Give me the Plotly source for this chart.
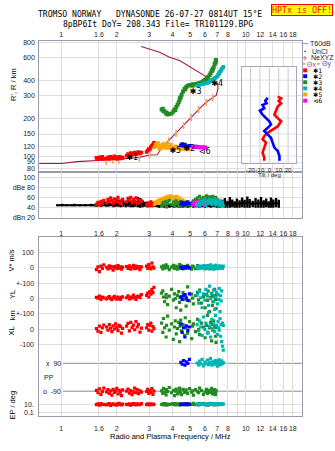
import math
import plotly.graph_objects as go

W, H = 335, 451

# ---------------- tick values / labels ----------------
freq_ticks = [1, 1.6, 2, 3, 4, 5, 6, 7, 8, 10, 12, 14, 16, 18]
freq_ticks_mid = [1, 1.6, 2, 3, 4, 5, 6, 7, 8, 9, 10, 12, 14, 16, 18]
range_ticks = [80, 90, 100, 120, 150, 200, 300, 400, 600, 800]
db_ticks = [20, 40, 60, 80, 100]
db_ticktext = ['dBn 20', '40', '60', 'dBe 80', '100']
tilt_ticks = [-20, -10, 0, 10, 20]

# ---------------- profile (real height) and NeXYZ ----------------
prof_f = [0.75, 1.00, 1.22, 1.51, 1.75, 1.99, 2.34, 2.65, 3.01, 3.32,
          3.41, 3.48, 3.82, 4.19, 4.60, 5.06, 5.55, 6.10, 6.62, 6.93,
          7.07, 7.03, 6.78, 6.37, 5.40, 4.38, 3.86, 3.41, 2.71]
prof_R = [87.5, 87.5, 90.7, 93.0, 93.5, 94.7, 96.5, 98.0, 102.4, 102.9,
          110, 116.7, 132.9, 152, 174, 203, 234, 268, 291, 305,
          344, 374, 388, 411, 479, 573, 608, 665, 741]
pink_f = [1.75, 1.90, 2.05, 2.65, 3.01, 3.48, 3.82, 4.19, 4.60, 5.06, 5.55, 6.10, 6.62]
pink_R = [90.7, 93.0, 93.0, 96.5, 102.4, 116.7, 132.9, 152, 174, 203, 234, 268, 291]

# ---------------- echo class 1 (red) ----------------
red_f = [1.55, 1.58, 1.61, 1.64, 1.67, 1.70,
         1.76, 1.79, 1.82, 1.85, 1.88, 1.91, 1.94, 1.97, 2.00, 2.03, 2.06, 2.09, 2.12, 2.15,
         2.26, 2.30, 2.34, 2.38, 2.42, 2.46, 2.50, 2.54, 2.58, 2.62, 2.67, 2.72,
         2.90, 2.94, 2.98, 3.02, 3.06, 3.10, 3.14, 3.18]
red_R = [97, 95, 98, 96, 99, 95,
         96, 98, 95, 99, 97, 96, 100, 97, 95, 98, 99, 96, 98, 97,
         101, 104, 102, 106, 103, 105, 107, 104, 106, 108, 105, 107,
         108, 111, 114, 113, 118, 121, 124, 128]
red_dB = [47, 51, 46, 53, 49, 55,
          50, 57, 53, 60, 55, 49, 58, 52, 56, 61, 50, 54, 48, 57,
          52, 59, 55, 61, 50, 57, 53, 60, 49, 56, 51, 54,
          46, 50, 44, 48, 52, 45, 49, 47]
red_V = [-12, 5, -25, 10, -5, 18,
         3, -8, 12, -3, 7, -15, 2, 9, -6, 14, -2, 6, -10, 4,
         8, -4, 12, -9, 3, 15, -6, 10, -2, 7, -12, 5,
         11, -5, 20, 2, -8, 30, 6, -3]
red_YL = [8, 2, 15, -5, 10, 4,
          -3, 6, 12, 0, -8, 5, 14, 3, -4, 9, 1, -6, 7, 11,
          5, 18, -2, 10, 3, 22, 8, -5, 12, 15, 6, 25,
          20, 35, 10, 45, 28, 60, 38, 72]
red_XL = [5, -12, 20, -20, 10, 28,
          15, -5, 30, 8, -15, 22, 2, 35, 12, -8, 25, 18, -25, 6,
          20, 38, -10, 45, 12, 28, -3, 50, 15, 32, -18, 8,
          10, 30, -5, 25, 40, -12, 18, 5]
red_PP = [-85, -100, -75, -110, -92, -70,
          -95, -80, -105, -88, -115, -78, -98, -90, -72, -108, -84, -96, -118, -82,
          -90, -76, -102, -86, -112, -94, -70, -100, -80, -106, -88, -96,
          -92, -78, -104, -86, -98, -74, -110, -90]
red_EP = [8, 12, 6, 15, 9, 10,
          7, 11, 14, 5, 9, 13, 8, 10, 6, 12, 16, 9, 7, 11,
          10, 8, 13, 6, 9, 15, 11, 7, 12, 10, 8, 14,
          9, 12, 7, 10, 13, 8, 11, 9]

# ---------------- echo class 2 (blue) ----------------
blue_f = [4.45, 4.52, 4.60, 4.68, 4.76, 4.85, 4.95]
blue_R = [122, 125, 121, 124, 120, 119, 121]
blue_dB = [48, 51, 46, 50, 47, 52, 49]
blue_V = [2, -4, 6, -1, 3, 8, -2]
blue_YL = [10, -5, 18, 25, 5, -12, 30]
blue_XL = [35, -20, 10, -50, 22, -8, 15]
blue_PP = [96, 84, 108, 78, 100, 90, 115]
blue_EP = [9, 11, 8, 12, 10, 13, 9]

# ---------------- echo class 3 (green) ----------------
green_f = [3.50, 3.55, 3.58, 3.63, 3.70, 3.72, 3.77, 3.85, 3.96, 4.05,
           4.11, 4.15, 4.20, 4.27, 4.33, 4.38, 4.40, 4.44, 4.49, 4.57,
           4.66, 4.70, 4.75, 4.84, 4.96, 5.09, 5.15, 5.20, 5.34, 5.48,
           5.55, 5.62, 5.75, 5.90, 6.02, 6.13, 6.20, 6.25, 6.37, 6.45,
           6.53, 6.60, 6.62, 6.70, 6.78, 6.85, 6.88, 6.90]
green_R = [234, 238, 228, 226, 218, 222, 214, 216, 218, 226,
           234, 232, 245, 256, 268, 280, 288, 293, 307, 325,
           342, 338, 352, 361, 365, 368, 362, 372, 374, 377,
           372, 380, 386, 395, 402, 409, 418, 425, 440, 455,
           472, 480, 490, 507, 535, 550, 578, 566]
green_dB = [44, 48, 51, 46, 53, 42, 49, 55, 47, 52,
            45, 50, 54, 48, 43, 51, 46, 53, 49, 45,
            47, 44, 50, 46, 48, 45, 51, 54, 57, 60,
            55, 63, 58, 61, 56, 64, 59, 53, 62, 57,
            60, 55, 63, 58, 54, 61, 56, 59]
green_V = [5, -8, 12, -3, 18, 0, 8, -12, 4, 15,
           -5, 10, 2, -10, 7, 20, -2, 6, 13, -7,
           3, 9, -4, 16, 1, -9, 11, 5, -6, 14,
           2, -3, 8, 0, 10, -5, 4, 12, -8, 6,
           -2, 9, 3, -6, 7, 1, -4, 5]
green_YL = [35, 50, 10, -20, 25, 5, -40, 15, 60, -10,
            30, 0, -60, 20, 45, -25, 8, -75, 12, 38,
            -5, 22, -50, 75, -15, 28, 3, -35, 18, 40,
            -8, 55, -30, 12, -60, 25, -12, 48, -85, 6,
            30, -45, 15, -20, 60, -5, 20, -65]
green_XL = [40, -20, 70, 10, -50, 25, 85, -5, 35, -65,
            15, 55, -30, 5, 45, -80, 20, 60, -10, 30,
            -40, 75, 10, -25, 50, -60, 20, 35, -15, 65,
            0, -35, 40, 15, -55, 25, 90, -20, 10, 45,
            -75, 30, -5, 55, 20, -45, 12, -85]
green_PP = [-88, -104, -72, -96, -114, -80, -92, -66, -100, -84,
            -118, -90, -76, -108, -94, -70, -86, -102, -112, -78,
            -98, -90, -82, -106, -74, -96, -88, -116, -80, -92,
            -100, -70, -86, -110, -94, -78, -104, -90, -84, -98,
            -72, -108, -88, -96, -80, -112, -92, -86]
green_EP = [9, 12, 7, 14, 10, 6, 11, 8, 13, 9,
            15, 7, 10, 12, 8, 11, 6, 14, 9, 10,
            12, 8, 11, 7, 13, 9, 10, 16, 8, 12,
            7, 11, 9, 14, 10, 8, 12, 6, 10, 13,
            9, 11, 8, 12, 10, 7, 9, 11]

# ---------------- echo class 4 (cyan) ----------------
cyan_f = [5.45, 5.55, 5.62, 5.70, 5.80, 5.90, 6.00, 6.08, 6.20, 6.28,
          6.37, 6.45, 6.55, 6.62, 6.70, 6.78, 6.85, 6.95, 7.02, 7.08,
          7.13, 7.18, 7.25, 7.30, 7.35, 7.40, 7.48, 7.55]
cyan_R = [362, 366, 368, 370, 372, 374, 377, 378, 380, 384,
          390, 395, 400, 405, 409, 414, 418, 424, 432, 440,
          447, 455, 465, 472, 480, 490, 500, 510]
cyan_dB = [46, 50, 44, 53, 48, 56, 51, 45, 54, 49,
           57, 52, 47, 55, 50, 58, 46, 53, 49, 56,
           51, 45, 54, 48, 52, 47, 50, 44]
cyan_V = [4, -6, 10, -2, 8, 14, -8, 3, 12, -4,
          6, 18, 0, 9, -10, 5, 15, -3, 7, 11,
          -6, 2, 13, -2, 8, 4, -5, 10]
cyan_YL = [20, -30, 45, 5, -60, 30, -10, 60, 15, -45,
           80, 0, 35, -20, 55, -70, 10, 40, -35, 25,
           -5, 65, -85, 18, -15, 50, -160, -175]
cyan_XL = [30, -10, 55, 15, -40, 80, 0, 40, -25, 110,
           20, -50, 65, 5, 35, -15, 90, 25, -35, 50,
           10, -5, 70, -45, 30, -80, -110, -135]
cyan_PP = [92, 80, 104, 86, 116, 74, 98, 88, 110, 82,
           96, 120, 78, 100, 90, 84, 108, 94, 72, 102,
           86, 112, 90, 80, 98, 106, 88, 95]
cyan_EP = [10, 13, 8, 15, 11, 9, 12, 7, 14, 10,
           16, 9, 11, 13, 8, 12, 10, 15, 9, 11,
           13, 8, 12, 10, 14, 9, 11, 12]

# ---------------- echo class 5 (orange) & 6 (magenta) ----------------
orange_f = [3.20, 3.25, 3.30, 3.35, 3.40, 3.45, 3.50, 3.55, 3.60, 3.66,
            3.72, 3.78, 3.85, 3.92, 4.00, 4.08, 4.15, 4.22, 4.30, 4.38,
            4.46, 4.55, 4.64, 4.72, 4.80, 4.88]
orange_R = [118, 124, 120, 127, 115, 122, 119, 125, 117, 121,
            126, 116, 119, 123, 117, 115, 120, 116, 118, 115,
            117, 114, 116, 114, 115, 113]
orange_dB = [47, 52, 49, 55, 51, 57, 53, 59, 56, 61,
             58, 63, 60, 64, 59, 62, 57, 63, 55, 60,
             52, 56, 49, 53, 47, 50]
mag_f = [5.15, 5.25, 5.35, 5.45, 5.55, 5.65, 5.75, 5.85, 5.95, 6.05]
mag_R = [119, 118, 120, 118, 119, 117, 118, 117, 118, 117]
mag_dB = [46, 50, 44, 52, 48, 53, 47, 51, 45, 49]

# ---------------- echo labels ----------------
lab_text = ['✱1', '✱5', '✱2', '⊲6', '✱3', '✱4']
lab_f = [2.42, 4.15, 4.94, 5.99, 5.35, 7.0]
lab_R = [97.5, 110, 114.7, 108.6, 324, 376]

# ---------------- noise (unclassified amplitude) ----------------
noise_f = [0.95, 0.98, 1.01, 1.04, 1.07, 1.10, 1.14, 1.18, 1.22, 1.26,
           1.30, 1.35, 1.40, 1.45, 1.50, 1.55, 1.60, 1.65, 1.70, 1.75,
           1.80, 1.86, 1.92, 1.98, 2.04, 2.10, 2.17, 2.24, 2.31, 2.38,
           2.45, 2.52, 2.60, 2.68, 2.76, 2.84, 2.93, 3.02, 3.11, 3.20,
           3.30, 3.40, 3.50, 3.62, 3.74, 3.86, 3.98, 4.10, 4.25, 4.40,
           4.55, 4.70, 4.85, 5.00, 5.20, 5.40, 5.60, 5.80, 6.00, 6.20,
           6.45, 6.70, 6.95, 7.20, 7.45, 7.70, 7.95, 8.20, 8.45, 8.70,
           8.95, 9.25, 9.55, 9.85, 10.2, 10.5, 10.9, 11.3, 11.7, 12.1,
           12.5, 12.9, 13.3, 13.7, 14.1, 14.6, 15.1]
noise_hi = [47, 46, 48, 46, 47, 46, 47, 48, 46, 47,
            46, 47, 46, 48, 47, 49, 50, 48, 52, 50,
            54, 49, 53, 51, 56, 50, 55, 52, 58, 54,
            57, 53, 62, 60, 55, 52, 50, 48, 51, 49,
            47, 46, 48, 47, 46, 48, 47, 46, 47, 48,
            47, 46, 48, 47, 46, 47, 48, 46, 47, 48,
            47, 49, 48, 52, 56, 60, 54, 62, 57, 53,
            59, 55, 61, 56, 63, 58, 54, 60, 57, 62,
            55, 59, 53, 61, 57, 60, 56]
noise_lo = [43, 44, 43, 44, 43, 44, 43, 43, 44, 43,
            44, 43, 44, 43, 43, 42, 43, 42, 43, 42,
            42, 43, 41, 42, 42, 41, 42, 41, 42, 41,
            41, 42, 41, 40, 41, 42, 41, 42, 41, 42,
            41, 40, 41, 40, 41, 40, 41, 40, 41, 40,
            40, 41, 40, 41, 40, 41, 40, 41, 40, 41,
            40, 41, 40, 40, 41, 40, 40, 40, 41, 40,
            40, 40, 41, 40, 40, 40, 41, 40, 40, 40,
            40, 41, 40, 40, 40, 41, 40]

# ---------------- tilt inset ----------------
thx_R = [296, 287, 274, 262, 247, 226, 213, 200, 189, 172, 162, 153, 144, 136, 128, 117, 107, 97.5, 92]
thx = [8.9, 12.6, 10, 12.6, 8.9, 7.2, 5.4, 8.9, 12.6, 8.9, 3.5, -1.8, -5.4, -7.2, -3.5, -5.4, -7.2, -5.4, -5.4]
thy_R = [291, 274, 262, 255, 240, 229, 213, 200, 189, 178, 167, 158, 149, 140, 128, 117, 110, 100.5, 92]
thy = [-1.8, -4.3, -2.9, -7.2, -5.4, -10, -7.2, -3.5, 0, 1.8, -1.8, -5.4, -1.8, 1.8, 3.5, 5.4, 8.9, 10.8, 10.8]

# ---------------- styling / geometry ----------------
RED, BLUE, GREEN, CYAN, ORANGE, MAG = '#ff0000', '#0000ff', '#228b22', '#00b4b4', '#ffa500', '#ff00ff'
GRID = '#dedede'
FRAME = '#9a9aaa'
SANS = 'Liberation Sans, Arial, sans-serif'
MONO = 'DejaVu Sans Mono, monospace'
TICKFONT = dict(family=SANS, size=7, color='#222')

def fx(px):
    return px / W

def fy(py):
    return 1 - py / H

X_DOM = [fx(39.3), fx(301.7)]
F_RANGE = [math.log10(0.76), math.log10(20.1)]

# panel-3 strip mapping (stacked strips on one axis)
V0, Y0, X0, K = 150.7, 119.5, 88.3, 0.156
P0, KP = 39.7, 0.157
E0, KE = 4.0, 4.15

def vpos(vals):
    return [V0 + K * v for v in vals]

def ylpos(vals):
    return [Y0 + K * v for v in vals]

def xlpos(vals):
    return [X0 + K * v for v in vals]

def pppos(vals):
    return [P0 + KP * v for v in vals]

def eppos(vals):
    return [E0 + KE * (math.log10(v) + 1) for v in vals]

fig = go.Figure()

def pts(x, y, color, xa, ya, size=3.2):
    fig.add_trace(go.Scatter(x=x, y=y, mode='markers', xaxis=xa, yaxis=ya,
                             marker=dict(symbol='square', size=size, color=color, line=dict(width=0)),
                             hoverinfo='skip'))

# ---- inset gridlines (traces, above the white backing) ----
for t in tilt_ticks:
    fig.add_trace(go.Scatter(x=[t, t], y=[80, 600], mode='lines', xaxis='x4', yaxis='y4',
                             line=dict(color='#c8c8d8', width=1), hoverinfo='skip'))
for r in [100, 120, 150, 200, 300, 400]:
    fig.add_trace(go.Scatter(x=[-40, 40], y=[r, r], mode='lines', xaxis='x4', yaxis='y4',
                             line=dict(color=GRID, width=1), hoverinfo='skip'))
fig.add_trace(go.Scatter(x=thx, y=thx_R, mode='lines', xaxis='x4', yaxis='y4',
                         line=dict(color=RED, width=2.6), hoverinfo='skip'))
fig.add_trace(go.Scatter(x=thy, y=thy_R, mode='lines', xaxis='x4', yaxis='y4',
                         line=dict(color=BLUE, width=2.6), hoverinfo='skip'))

# ---- top panel ----
fig.add_trace(go.Scatter(x=prof_f, y=prof_R, mode='lines', xaxis='x', yaxis='y',
                         line=dict(color='#a3194a', width=1.1), hoverinfo='skip'))
fig.add_trace(go.Scatter(x=pink_f, y=pink_R, mode='markers', xaxis='x', yaxis='y',
                         marker=dict(symbol='line-ns-open', size=5, line=dict(color='#e45c86', width=1.6)),
                         hoverinfo='skip'))
pts(red_f, red_R, RED, 'x', 'y', 3.6)
pts(orange_f, orange_R, ORANGE, 'x', 'y', 3.6)
pts(green_f, green_R, GREEN, 'x', 'y', 4)
pts(cyan_f, cyan_R, CYAN, 'x', 'y', 3.6)
pts(blue_f, blue_R, BLUE, 'x', 'y', 3.6)
pts(mag_f, mag_R, MAG, 'x', 'y', 3.6)
fig.add_trace(go.Scatter(x=lab_f, y=lab_R, mode='text', text=lab_text, xaxis='x', yaxis='y',
                         textfont=dict(family='DejaVu Sans', size=8, color='black'),
                         textposition='middle center', hoverinfo='skip'))

# ---- amplitude panel ----
nx, ny = [], []
for f, lo, hi in zip(noise_f, noise_lo, noise_hi):
    nx += [f, f, None]
    ny += [lo, hi, None]
fig.add_trace(go.Scatter(x=nx, y=ny, mode='lines', xaxis='x2', yaxis='y2',
                         line=dict(color='black', width=2.4), hoverinfo='skip'))
fig.add_trace(go.Scatter(x=noise_f, y=[(a + b) / 2 for a, b in zip(noise_lo, noise_hi)], mode='lines',
                         xaxis='x2', yaxis='y2', line=dict(color='black', width=2), hoverinfo='skip'))
pts(red_f, red_dB, RED, 'x2', 'y2')
pts(orange_f, orange_dB, ORANGE, 'x2', 'y2')
pts(green_f, green_dB, GREEN, 'x2', 'y2')
pts(mag_f, mag_dB, MAG, 'x2', 'y2')
pts(blue_f, blue_dB, BLUE, 'x2', 'y2')
pts(cyan_f, cyan_dB, CYAN, 'x2', 'y2')

# ---- V*, YL, XL, PP, EP panel ----
for f, V, YL, XL, PP, EP, col in [
        (red_f, red_V, red_YL, red_XL, red_PP, red_EP, RED),
        (green_f, green_V, green_YL, green_XL, green_PP, green_EP, GREEN),
        (cyan_f, cyan_V, cyan_YL, cyan_XL, cyan_PP, cyan_EP, CYAN),
        (blue_f, blue_V, blue_YL, blue_XL, blue_PP, blue_EP, BLUE)]:
    pts(f, vpos(V), col, 'x3', 'y3')
    pts(f, ylpos(YL), col, 'x3', 'y3')
    pts(f, xlpos(XL), col, 'x3', 'y3')
    pts(f, pppos(PP), col, 'x3', 'y3')
    pts(f, eppos(EP), col, 'x3', 'y3')

# ---------------- axes ----------------
def xax(dom, anchor, side, tickvals, showlabels=True, standoff=0):
    return dict(type='log', range=F_RANGE, domain=dom, anchor=anchor, side=side,
                tickmode='array', tickvals=tickvals, ticktext=[str(v) for v in tickvals],
                showticklabels=showlabels, ticklabelstandoff=standoff, tickangle=0,
                showgrid=True, gridcolor=GRID, gridwidth=1,
                minor=dict(tickvals=[9], showgrid=True, gridcolor=GRID),
                showline=True, mirror=True, linecolor=FRAME, linewidth=1,
                ticks='', tickfont=TICKFONT, zeroline=False, fixedrange=True)

p3_grid = [V0 + 100 * K, V0, V0 - 100 * K, Y0, Y0 - 100 * K, X0, X0 - 100 * K,
           E0 + 2 * KE, E0]

fig.update_layout(
    width=W, height=H, margin=dict(l=0, r=0, t=0, b=0),
    paper_bgcolor='white', plot_bgcolor='white', showlegend=False,
    xaxis=xax(X_DOM, 'y', 'top', freq_ticks, True, 0),
    xaxis2=xax(X_DOM, 'y2', 'bottom', freq_ticks_mid, True, 9),
    xaxis3=xax(X_DOM, 'y3', 'bottom', freq_ticks, True, 5),
    yaxis=dict(type='log', range=[math.log10(75.4), math.log10(815)], domain=[fy(171), fy(38.7)],
               anchor='x', tickmode='array', tickvals=range_ticks, ticktext=[str(v) for v in range_ticks],
               showgrid=True, gridcolor=GRID, showline=True, mirror=True, linecolor=FRAME,
               ticks='', tickfont=TICKFONT, zeroline=False, ticklabelstandoff=2),
    yaxis2=dict(range=[19.4, 112.5], domain=[fy(218), fy(171)], anchor='x2',
                tickmode='array', tickvals=db_ticks, ticktext=db_ticktext,
                showgrid=True, gridcolor=GRID, showline=True, mirror=True, linecolor=FRAME,
                ticks='', tickfont=TICKFONT, zeroline=False, ticklabelstandoff=2),
    yaxis3=dict(range=[0, 182.3], domain=[fy(419), fy(236.7)], anchor='x3',
                tickmode='array', tickvals=p3_grid, showticklabels=False,
                showgrid=True, gridcolor=GRID, showline=True, mirror=True, linecolor=FRAME,
                ticks='', zeroline=False),
    xaxis4=dict(range=[-29.4, 28.4], domain=[fx(241.7), fx(296)], anchor='y4',
                tickmode='array', tickvals=tilt_ticks, ticktext=[str(v) for v in tilt_ticks],
                tickangle=0, ticklabelstandoff=1,
                showgrid=False, showline=True, mirror=True, linecolor='#a8a8c0',
                ticks='', tickfont=dict(family=SANS, size=6, color='#222'), zeroline=False),
    yaxis4=dict(type='log', range=[math.log10(89), math.log10(505)], domain=[fy(161.7), fy(65.3)],
                anchor='x4', showticklabels=False, showgrid=False, showline=True, mirror=True,
                linecolor='#a8a8c0', ticks='', zeroline=False),
)

shapes = [
    # white backing of the tilt inset (hides main grid)
    dict(type='rect', xref='paper', yref='paper', x0=fx(241.7), x1=fx(296), y0=fy(161.7), y1=fy(65.3),
         fillcolor='white', line=dict(width=0), layer='between'),
    # PP reference lines
    dict(type='line', xref='paper', yref='y3', x0=fx(63), x1=X_DOM[1], y0=P0 + 90 * KP, y1=P0 + 90 * KP,
         line=dict(color='#8a8a8a', width=1), layer='between'),
    dict(type='line', xref='paper', yref='y3', x0=fx(63), x1=X_DOM[1], y0=P0 - 90 * KP, y1=P0 - 90 * KP,
         line=dict(color='#8a8a8a', width=1), layer='between'),
    # legend graphics
    dict(type='line', xref='paper', yref='paper', x0=fx(303), x1=fx(308), y0=fy(41), y1=fy(41),
         line=dict(color='#999999', width=1)),
    dict(type='rect', xref='paper', yref='paper', x0=fx(304.5), x1=fx(305.7), y0=fy(49.6), y1=fy(48.4),
         fillcolor='black', line=dict(width=0)),
    dict(type='line', xref='paper', yref='paper', x0=fx(303), x1=fx(307), y0=fy(55.7), y1=fy(55.7),
         line=dict(color='#e45c86', width=1)),
    dict(type='line', xref='paper', yref='paper', x0=fx(305), x1=fx(305), y0=fy(53.7), y1=fy(57.7),
         line=dict(color='#e45c86', width=1)),
    dict(type='line', xref='paper', yref='paper', x0=fx(302.5), x1=fx(305.5), y0=fy(61.7), y1=fy(61.7),
         line=dict(color='#e07070', width=1)),
    dict(type='line', xref='paper', yref='paper', x0=fx(317), x1=fx(320), y0=fy(61.7), y1=fy(61.7),
         line=dict(color='#7070e0', width=1)),
]
leg_cols = [RED, BLUE, GREEN, CYAN, ORANGE, MAG]
leg_txt = ['✱1', '✱2', '✱3', '✱4', '✱5', '⊲6']
leg_y = [68.3, 74.2, 80.3, 86.5, 92.7, 99.0]
for c, yy in zip(leg_cols, leg_y):
    shapes.append(dict(type='rect', xref='paper', yref='paper', x0=fx(303.2), x1=fx(307.2),
                       y0=fy(yy + 2), y1=fy(yy - 2), fillcolor=c, line=dict(width=0)))
fig.update_layout(shapes=shapes)

ann = []

def A(text, x, y, size=7, xanchor='center', color='#222', family=SANS, angle=0, yref='paper', **kw):
    d = dict(text=text, x=fx(x), y=(fy(y) if yref == 'paper' else y), xref='paper', yref=yref,
             showarrow=False, xanchor=xanchor, yanchor='middle', textangle=angle,
             font=dict(family=family, size=size, color=color), borderpad=0)
    d.update(kw)
    ann.append(d)

# titles
A('TROMSO NORWAY   DYNASONDE 26-07-27 0814UT 15°E', 149.5, 11.6, 8.1, family=MONO, color='black')
A('8pBP6It DoY= 208.343 File= TR101129.BPG', 157.5, 21.2, 8.1, family=MONO, color='black')
A('HPTx is OFF!', 302.3, 7.2, 8.3, family=MONO, color='#ff0000', bgcolor='#ffff00',
  bordercolor='#ff0000', borderwidth=1)
A("R', R / km", 14, 83, 7.5, angle=-90, color='black')
A('Tilt / deg', 269, 174.5, 6, color='#222')
A('Radio and Plasma Frequency / MHz', 170, 439, 7.5, color='black')

# legend texts
A('T60dB', 309, 41, 7, xanchor='left')
A('UnCl', 310.5, 49, 7, xanchor='left')
A('NeXYZ', 310, 55.7, 7, xanchor='left')
A('Θx', 305.5, 61.9, 7, xanchor='left', color='#c04060')
A('Θy', 320.5, 61.9, 7, xanchor='left', color='#4050c0')
for t, yy in zip(leg_txt, leg_y):
    A(t, 311.5, yy, 6.3, xanchor='left', color='black', family='DejaVu Sans')

# panel-3 labels
A('100', 35, V0 + 100 * K, 7, xanchor='right', yref='y3')
A('0', 35, V0, 7, xanchor='right', yref='y3')
A('+-100', 35, V0 - 100 * K, 7, xanchor='right', yref='y3')
A('0', 35, Y0, 7, xanchor='right', yref='y3')
A('+-100', 35, Y0 - 100 * K, 7, xanchor='right', yref='y3')
A('0', 35, X0, 7, xanchor='right', yref='y3')
A('-100', 35, X0 - 100 * K, 7, xanchor='right', yref='y3')
A('x  90', 62, P0 + 90 * KP, 7, xanchor='right', yref='y3')
A('PP', 43, P0, 7, xanchor='left', yref='y3')
A('o  -90', 62, P0 - 90 * KP, 7, xanchor='right', yref='y3')
A('10.', 35, E0 + 2 * KE, 7, xanchor='right', yref='y3')
A('0.1', 35, E0, 7, xanchor='right', yref='y3')
A('V* m/s', 12, 261, 7.5, angle=-90, color='black')
A('YL', 12, 296, 7.5, angle=-90, color='black')
A('km', 12, 316.5, 7.5, angle=-90, color='black')
A('XL', 12, 333, 7.5, angle=-90, color='black')
A('EP / deg', 13, 408, 7.5, angle=-90, color='black')

fig.update_layout(annotations=ann)
fig.write_html('out.html')
